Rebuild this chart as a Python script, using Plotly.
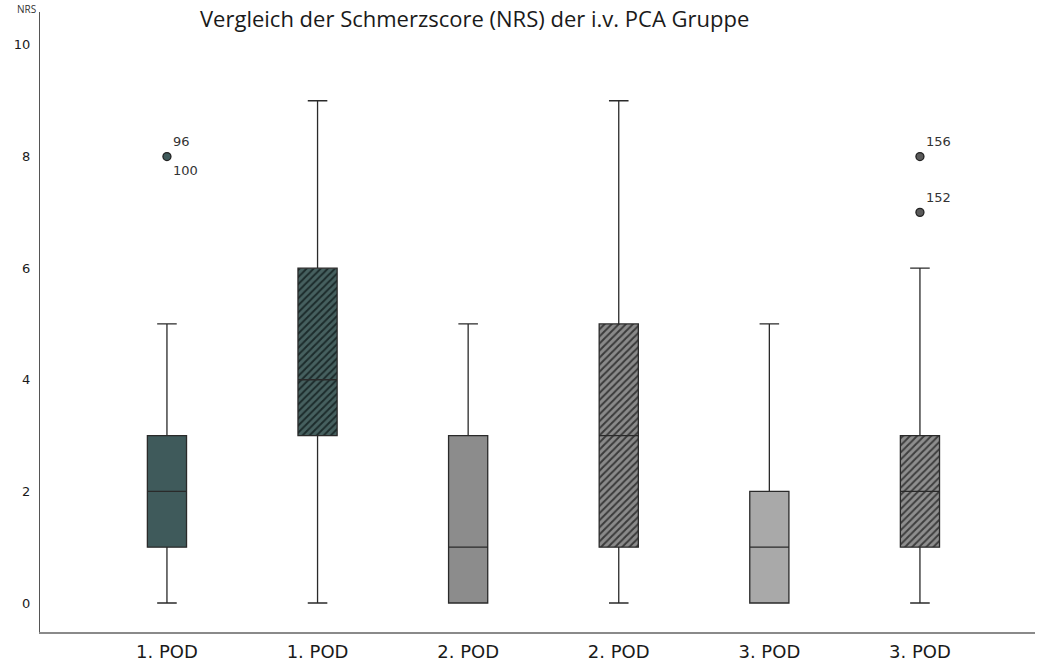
import plotly.graph_objects as go

# Pain score (NRS) summary per group
groups = ["1. POD", "1. POD", "2. POD", "2. POD", "3. POD", "3. POD"]
positions = [0, 1, 2, 3, 4, 5]
lower_whisker = [0, 0, 0, 0, 0, 0]
q1 = [1, 3, 0, 1, 0, 1]
median = [2, 4, 1, 3, 1, 2]
q3 = [3, 6, 3, 5, 2, 3]
upper_whisker = [5, 9, 5, 9, 5, 6]
hatched = [False, True, False, True, False, True]
fill_colors = ["#3f5a5b", "#46605f", "#8c8c8c", "#8a8a8a", "#a9a9a9", "#8e8e8e"]
hatch_colors = [None, "#1c2b2b", None, "#3a3a3a", None, "#3e3e3e"]

# Outliers: (group index, value, case labels)
outlier_group = [0, 5, 5]
outlier_value = [8, 8, 7]
outlier_labels = [["96", "100"], ["156"], ["152"]]
outlier_colors = ["#3f5a5b", "#5a5a5a", "#5a5a5a"]

BOX_W = 0.26

fig = go.Figure()

# Hatched fills drawn as bars spanning q1..q3 behind the box outlines
for i, pos in enumerate(positions):
    if hatched[i]:
        fig.add_trace(go.Bar(
            x=[pos], y=[q3[i] - q1[i]], base=[q1[i]], width=BOX_W,
            marker=dict(
                color=fill_colors[i],
                line=dict(width=0),
                pattern=dict(shape="/", fillmode="replace", size=5, solidity=0.4,
                             fgcolor=hatch_colors[i], bgcolor=fill_colors[i]),
            ),
            showlegend=False, hoverinfo="skip",
        ))

for i, pos in enumerate(positions):
    fig.add_trace(go.Box(
        x=[pos], q1=[q1[i]], median=[median[i]], q3=[q3[i]],
        lowerfence=[lower_whisker[i]], upperfence=[upper_whisker[i]],
        width=BOX_W, whiskerwidth=0.5, boxpoints=False,
        fillcolor="rgba(0,0,0,0)" if hatched[i] else fill_colors[i],
        line=dict(color="#2a2a2a", width=1.3),
        showlegend=False,
    ))

for k, g in enumerate(outlier_group):
    fig.add_trace(go.Scatter(
        x=[positions[g]], y=[outlier_value[k]], mode="markers",
        marker=dict(size=8, color=outlier_colors[k], line=dict(color="#222222", width=1.3)),
        showlegend=False, hoverinfo="skip",
    ))
    labels = outlier_labels[k]
    shifts = [15, -14] if len(labels) == 2 else [15]
    for lab, ys in zip(labels, shifts):
        fig.add_annotation(
            x=positions[g], y=outlier_value[k], text=lab, showarrow=False,
            xanchor="left", yanchor="middle", xshift=4, yshift=ys,
            font=dict(family="DejaVu Sans", size=13, color="#333333"),
        )

fig.add_annotation(
    xref="paper", yref="paper", x=0.437, y=1.0, yshift=-6,
    text="Vergleich der Schmerzscore (NRS) der i.v. PCA Gruppe",
    showarrow=False, xanchor="center", yanchor="middle",
    font=dict(family="Open Sans", size=22, color="#1a1a1a"),
)
fig.add_annotation(
    xref="paper", yref="paper", x=0, y=1.0, xshift=-2, yshift=-6,
    text="NRS", showarrow=False, xanchor="right", yanchor="bottom",
    font=dict(family="Open Sans", size=10, color="#333333"),
)

fig.update_layout(
    width=1038, height=665,
    margin=dict(l=40, r=3, t=12, b=33),
    paper_bgcolor="white", plot_bgcolor="white",
    boxmode="overlay", barmode="overlay",
    xaxis=dict(
        range=[-0.843, 5.764], tickmode="array", tickvals=positions, ticktext=groups,
        showgrid=False, zeroline=False, showline=True, linecolor="#8a8a8a", linewidth=2,
        ticks="outside", ticklen=2, tickcolor="rgba(0,0,0,0)", automargin=False,
        tickfont=dict(family="DejaVu Sans", size=18, color="#1a1a1a"),
    ),
    yaxis=dict(
        range=[-0.52, 10.59], tickvals=[0, 2, 4, 6, 8, 10],
        showgrid=False, zeroline=False, showline=True, linecolor="#555555", linewidth=1.3,
        ticks="outside", ticklen=6, tickcolor="rgba(0,0,0,0)", automargin=False,
        tickfont=dict(family="DejaVu Sans", size=13, color="#1a1a1a"),
    ),
)

fig.write_html("out.html")
